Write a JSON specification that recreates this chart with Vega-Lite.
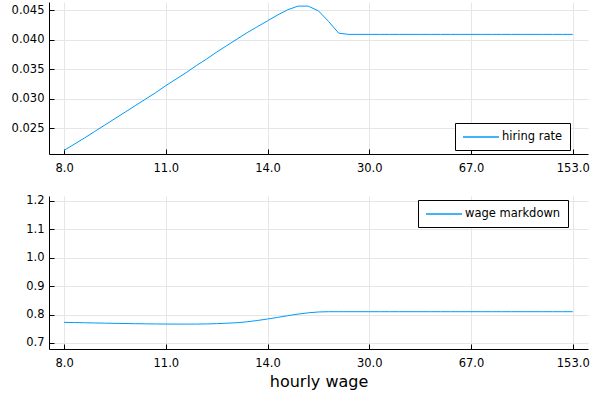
{
  "$schema": "https://vega.github.io/schema/vega-lite/v6.json",
  "padding": {"left": 5, "top": 2, "right": 2, "bottom": 2},
  "datasets": {
    "hiring": [
      {"i":0,"v":0.0212},{"i":1,"v":0.02225},{"i":2,"v":0.0233},{"i":3,"v":0.0244},{"i":4,"v":0.0255},
      {"i":5,"v":0.0266},{"i":6,"v":0.0277},{"i":7,"v":0.0288},{"i":8,"v":0.0299},{"i":9,"v":0.0310},
      {"i":10,"v":0.0322},{"i":11,"v":0.0333},{"i":12,"v":0.0344},{"i":13,"v":0.0356},{"i":14,"v":0.0367},
      {"i":15,"v":0.0379},{"i":16,"v":0.0390},{"i":17,"v":0.0401},{"i":18,"v":0.0412},{"i":19,"v":0.0422},
      {"i":20,"v":0.0432},{"i":21,"v":0.0442},{"i":22,"v":0.0451},{"i":23,"v":0.0457},{"i":24,"v":0.0457},
      {"i":25,"v":0.0449},{"i":26,"v":0.0431},{"i":27,"v":0.0411},{"i":28,"v":0.0409},{"i":29,"v":0.0409},
      {"i":30,"v":0.0409},{"i":31,"v":0.0409},{"i":32,"v":0.0409},{"i":33,"v":0.0409},{"i":34,"v":0.0409},
      {"i":35,"v":0.0409},{"i":36,"v":0.0409},{"i":37,"v":0.0409},{"i":38,"v":0.0409},{"i":39,"v":0.0409},
      {"i":40,"v":0.0409},{"i":41,"v":0.0409},{"i":42,"v":0.0409},{"i":43,"v":0.0409},{"i":44,"v":0.0409},
      {"i":45,"v":0.0409},{"i":46,"v":0.0409},{"i":47,"v":0.0409},{"i":48,"v":0.0409},{"i":49,"v":0.0409},
      {"i":50,"v":0.0409}
    ],
    "markdown": [
      {"i":0,"v":0.7725},{"i":1,"v":0.7718},{"i":2,"v":0.7711},{"i":3,"v":0.7704},{"i":4,"v":0.7697},
      {"i":5,"v":0.7690},{"i":6,"v":0.7684},{"i":7,"v":0.7678},{"i":8,"v":0.7673},{"i":9,"v":0.7669},
      {"i":10,"v":0.7666},{"i":11,"v":0.7664},{"i":12,"v":0.7664},{"i":13,"v":0.7665},{"i":14,"v":0.7670},
      {"i":15,"v":0.7680},{"i":16,"v":0.7695},{"i":17,"v":0.7712},{"i":18,"v":0.7745},{"i":19,"v":0.7790},
      {"i":20,"v":0.7843},{"i":21,"v":0.7900},{"i":22,"v":0.7960},{"i":23,"v":0.8015},{"i":24,"v":0.8060},
      {"i":25,"v":0.8090},{"i":26,"v":0.8100},{"i":27,"v":0.8100},{"i":28,"v":0.8100},{"i":29,"v":0.8100},
      {"i":30,"v":0.8100},{"i":31,"v":0.8100},{"i":32,"v":0.8100},{"i":33,"v":0.8100},{"i":34,"v":0.8100},
      {"i":35,"v":0.8100},{"i":36,"v":0.8100},{"i":37,"v":0.8100},{"i":38,"v":0.8100},{"i":39,"v":0.8100},
      {"i":40,"v":0.8100},{"i":41,"v":0.8100},{"i":42,"v":0.8100},{"i":43,"v":0.8100},{"i":44,"v":0.8100},
      {"i":45,"v":0.8100},{"i":46,"v":0.8100},{"i":47,"v":0.8100},{"i":48,"v":0.8100},{"i":49,"v":0.8100},
      {"i":50,"v":0.8100}
    ]
  },
  "bounds": "flush",
  "spacing": 42,
  "resolve": {"scale": {"color": "independent", "x": "independent", "y": "independent"}, "legend": {"color": "independent"}},
  "vconcat": [
    {
      "width": 539,
      "height": 152,
      "data": {"name": "hiring"},
      "mark": {"type": "line", "strokeWidth": 1, "clip": true},
      "encoding": {
        "x": {"field": "i", "type": "quantitative",
              "scale": {"domain": [-1.48, 51.5], "nice": false, "zero": false},
              "axis": {"values": [0,10,20,30,40,50], "title": null,
                       "labelExpr": "['8.0','11.0','14.0','30.0','67.0','153.0'][round(datum.value/10)]"}},
        "y": {"field": "v", "type": "quantitative",
              "scale": {"domain": [0.02059, 0.0464], "nice": false, "zero": false},
              "axis": {"values": [0.025,0.030,0.035,0.040,0.045], "format": ".3f", "title": null}},
        "color": {"datum": "hiring rate", "type": "nominal",
                  "scale": {"range": ["#009AFA"]},
                  "legend": {"title": null, "orient": "none", "legendX": 406, "legendY": 121}}
      }
    },
    {
      "width": 539,
      "height": 153,
      "data": {"name": "markdown"},
      "mark": {"type": "line", "strokeWidth": 1, "clip": true},
      "encoding": {
        "x": {"field": "i", "type": "quantitative",
              "scale": {"domain": [-1.48, 51.5], "nice": false, "zero": false},
              "axis": {"values": [0,10,20,30,40,50], "title": "hourly wage",
                       "labelExpr": "['8.0','11.0','14.0','30.0','67.0','153.0'][round(datum.value/10)]"}},
        "y": {"field": "v", "type": "quantitative",
              "scale": {"domain": [0.6789, 1.2165], "nice": false, "zero": false},
              "axis": {"values": [0.7,0.8,0.9,1.0,1.1,1.2], "format": ".1f", "title": null}},
        "color": {"datum": "wage markdown", "type": "nominal",
                  "scale": {"range": ["#009AFA"]},
                  "legend": {"title": null, "orient": "none", "legendX": 369, "legendY": 4}}
      }
    }
  ],
  "config": {
    "view": {"stroke": null},
    "font": "DejaVu Sans",
    "axis": {
      "domainColor": "#000000", "domainWidth": 1,
      "tickColor": "#000000", "tickSize": -5, "tickWidth": 1,
      "gridColor": "#e6e6e6", "gridWidth": 1,
      "labelFont": "DejaVu Sans", "labelFontSize": 11.5, "labelColor": "#000000",
      "titleFont": "DejaVu Sans", "titleFontSize": 16, "titleFontWeight": "normal", "titleColor": "#000000"
    },
    "axisY": {"labelPadding": 10, "minExtent": 44, "maxExtent": 44},
    "axisX": {"labelPadding": 13, "titlePadding": 5},
    "legend": {
      "symbolType": "M-3,0L3,0", "symbolSize": 144, "symbolStrokeWidth": 1.5, "symbolOffset": 12,
      "labelFont": "DejaVu Sans", "labelFontSize": 11.5, "labelColor": "#000000", "labelOffset": 14,
      "padding": 7, "strokeColor": "#000000", "fillColor": "#ffffff", "cornerRadius": 0
    }
  }
}
